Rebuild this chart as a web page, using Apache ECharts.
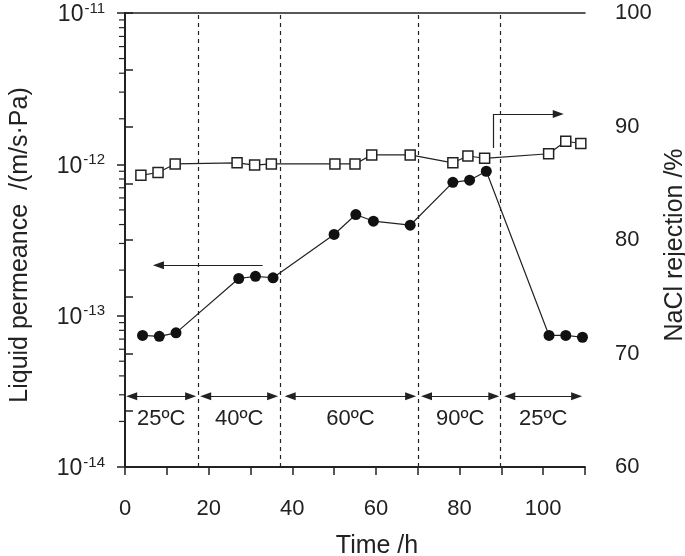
<!DOCTYPE html>
<html>
<head>
<meta charset="utf-8">
<script src="https://cdn.jsdelivr.net/npm/echarts@6/dist/echarts.min.js"></script>
<style>html,body{margin:0;padding:0;background:#fff;}#c{width:685px;height:556px;}</style>
</head>
<body>
<div id="c"></div>
<script>
// ---- data ----
const permTime = [4.2, 8.2, 12.2, 27.2, 31.2, 35.4, 50.0, 55.2, 59.4, 68.2, 78.4, 82.4, 86.4, 101.4, 105.4, 109.4];
const permeance = [7.4e-14, 7.3e-14, 7.7e-14, 1.76e-13, 1.82e-13, 1.78e-13, 3.44e-13, 4.66e-13, 4.21e-13, 3.96e-13, 7.6e-13, 7.86e-13, 9.0e-13, 7.4e-14, 7.4e-14, 7.2e-14];
const rejTime = [3.8, 7.9, 12.0, 26.8, 31.0, 35.0, 50.2, 55.0, 59.0, 68.2, 78.4, 82.0, 86.0, 101.3, 105.4, 109.0];
const rejection = [85.7, 85.95, 86.7, 86.8, 86.6, 86.7, 86.7, 86.7, 87.5, 87.5, 86.8, 87.4, 87.2, 87.6, 88.7, 88.5];
const boundaries = [17.4, 37.2, 70.2, 89.8];
const tempLabels = ['25ºC', '40ºC', '60ºC', '90ºC', '25ºC'];
const tempStart = [1.6, 19.3, 39.5, 72.1, 92.0];
const tempEnd = [15.7, 35.3, 68.3, 88.2, 108.0];
const tempArrowLevel = 2.93e-14;
const leftArrow = { from: [32.9, 2.15e-13], to: [8.0, 2.15e-13] };
const rightArrow = { base: [88, 88.1], corner: [88, 91.1], to: [103.6, 91.1] };
const xTickLabels = [0, 20, 40, 60, 80, 100];
const rightTickLabels = [60, 70, 80, 90, 100];
const logDecades = [-14, -13, -12];
const logMinorMultipliers = [2, 3, 4, 5, 6, 7, 8, 9];

const FONT = 'Liberation Sans, Arial, sans-serif';
const INK = '#222';

const solid = { type: 'solid', width: 1.2, color: INK };

const permMarks = [];
tempLabels.forEach((name, i) => permMarks.push([
  { coord: [tempStart[i], tempArrowLevel], name: name, symbol: 'triangle', lineStyle: solid,
    label: { show: true, position: 'insideMiddleBottom', distance: 12, formatter: name,
             fontSize: 22, fontFamily: FONT, color: INK } },
  { coord: [tempEnd[i], tempArrowLevel], symbol: 'triangle' }
]));
permMarks.push([
  { coord: leftArrow.from, symbol: 'none', lineStyle: solid, label: { show: false } },
  { coord: leftArrow.to, symbol: 'triangle' }
]);

const rejMarks = boundaries.map(b => ({ xAxis: b }));
rejMarks.push(
  [ { coord: rightArrow.base, lineStyle: solid }, { coord: rightArrow.corner } ],
  [ { coord: rightArrow.corner, lineStyle: solid }, { coord: rightArrow.to, symbol: 'triangle' } ]
);

const chart = echarts.init(document.getElementById('c'), null, { renderer: 'canvas' });
chart.setOption({
  animation: false,
  textStyle: { fontFamily: FONT, color: INK },
  grid: { left: 125, right: 100, top: 13, bottom: 89, outerBoundsMode: 'none', containLabel: false },
  xAxis: [{
    type: 'value', min: 0, max: 110, interval: 10, position: 'bottom',
    axisLine: { lineStyle: { color: INK, width: 2 } },
    axisTick: { length: 8, lineStyle: { color: INK, width: 1.5 } },
    axisLabel: { fontSize: 22, color: INK, fontFamily: FONT, margin: 31,
      formatter: v => (xTickLabels.indexOf(v) >= 0 ? String(v) : '') },
    splitLine: { show: false },
    name: 'Time /h', nameLocation: 'middle', nameGap: 67,
    nameTextStyle: { fontSize: 25, color: INK, fontFamily: FONT, padding: [0, 0, 0, 44] }
  }, {
    type: 'value', min: 0, max: 110, position: 'top',
    axisLine: { lineStyle: { color: INK, width: 1.5 } },
    axisTick: { show: false }, axisLabel: { show: false }, splitLine: { show: false }
  }],
  yAxis: [{
    type: 'log', logBase: 10, min: 1e-14, max: 1e-11, position: 'left',
    axisLine: { show: true, lineStyle: { color: INK, width: 2 } },
    axisTick: { show: true, length: 8, lineStyle: { color: INK, width: 1.5 } },
    axisLabel: {
      margin: 20, color: INK,
      formatter: v => '{b|10}{s|' + Math.round(Math.log10(v)) + '}',
      rich: {
        b: { fontSize: 23, fontFamily: FONT, color: INK, lineHeight: 24, padding: [4, 0, 0, 0] },
        s: { fontSize: 15, fontFamily: FONT, color: INK, lineHeight: 15, verticalAlign: 'top', padding: [0, 0, 0, 1] }
      }
    },
    splitLine: { show: false },
    name: 'Liquid permeance  /(m/s·Pa)', nameLocation: 'middle', nameRotate: 90, nameGap: 92,
    nameTextStyle: { fontSize: 25, color: INK, fontFamily: FONT, padding: [0, 10, 0, 0] }
  }, {
    type: 'value', min: 60, max: 100, interval: 5, position: 'right',
    axisLine: { show: true, lineStyle: { color: INK, width: 2 } },
    axisTick: { show: true, length: 8, lineStyle: { color: INK, width: 1.5 } },
    axisLabel: { fontSize: 22, color: INK, fontFamily: FONT, margin: 30,
      formatter: v => (rightTickLabels.indexOf(v) >= 0 ? String(v) : '') },
    splitLine: { show: false },
    name: 'NaCl rejection /%', nameLocation: 'middle', nameRotate: 90, nameGap: 71,
    nameTextStyle: { fontSize: 25, color: INK, fontFamily: FONT, padding: [0, 10, 0, 0] }
  }],
  series: [{
    type: 'line', xAxisIndex: 0, yAxisIndex: 0,
    data: permTime.map((t, i) => [t, permeance[i]]),
    symbol: 'circle', symbolSize: 11,
    itemStyle: { color: '#111' }, lineStyle: { color: INK, width: 1.2 },
    z: 3,
    markLine: { silent: true, animation: false, symbol: ['none', 'none'], symbolSize: [8, 11],
      precision: 6, data: permMarks }
  }, {
    type: 'line', xAxisIndex: 0, yAxisIndex: 1,
    data: rejTime.map((t, i) => [t, rejection[i]]),
    symbol: 'rect', symbolSize: 10, showSymbol: true,
    itemStyle: { color: '#fff', borderColor: INK, borderWidth: 1.5 },
    lineStyle: { color: INK, width: 1.2 },
    z: 4,
    markLine: { silent: true, animation: false, symbol: ['none', 'none'], symbolSize: [8, 11],
      label: { show: false },
      lineStyle: { type: [4, 4], width: 1.2, color: INK },
      data: rejMarks }
  }]
});

// minor log ticks (2..9 in each decade), placed through the log axis scale
const x0 = chart.convertToPixel({ xAxisIndex: 0 }, 0);
const minorTicks = [];
logDecades.forEach(e => logMinorMultipliers.forEach(m => {
  const y = chart.convertToPixel({ yAxisIndex: 0 }, m * Math.pow(10, e));
  minorTicks.push({ type: 'line', silent: true, z: 10,
    shape: { x1: x0 - 6, y1: y, x2: x0, y2: y },
    style: { stroke: INK, lineWidth: 1.2 } });
}));
chart.setOption({ graphic: minorTicks });
</script>
</body>
</html>
